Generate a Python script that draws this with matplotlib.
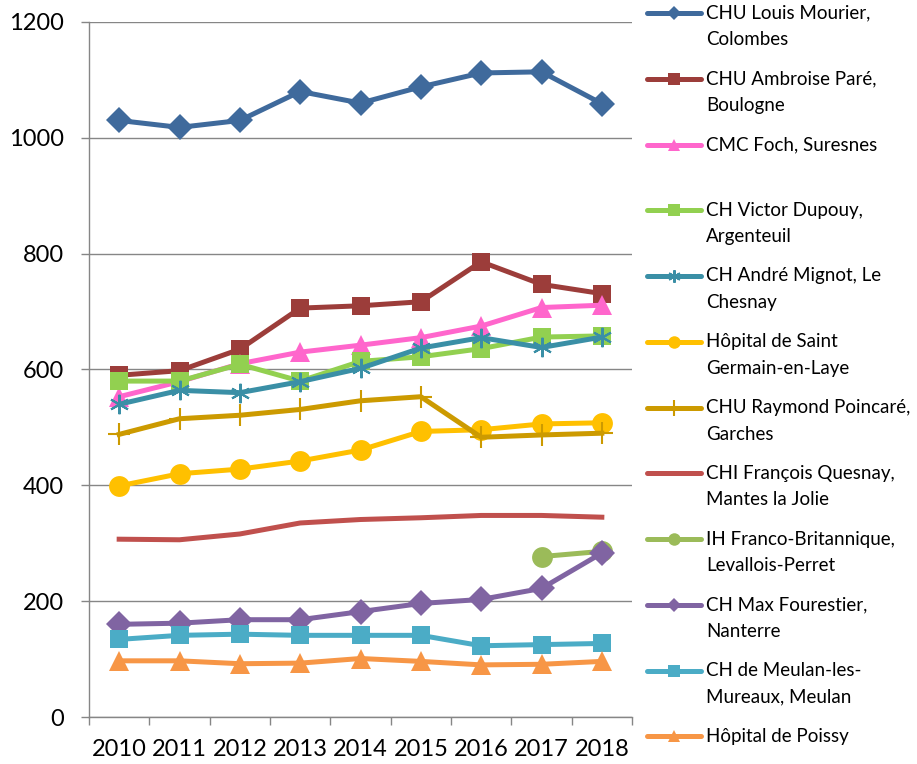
import matplotlib.pyplot as plt
from matplotlib.lines import Line2D

plt.rcParams['font.family'] = ['Lato', 'DejaVu Sans']

years = ['2010', '2011', '2012', '2013', '2014', '2015', '2016', '2017', '2018']

labels = [
    'CHU Louis Mourier,\nColombes',
    'CHU Ambroise Paré,\nBoulogne',
    'CMC Foch, Suresnes',
    'CH Victor Dupouy,\nArgenteuil',
    'CH André Mignot, Le\nChesnay',
    'Hôpital de Saint\nGermain-en-Laye',
    'CHU Raymond Poincaré,\nGarches',
    'CHI François Quesnay,\nMantes la Jolie',
    'IH Franco-Britannique,\nLevallois-Perret',
    'CH Max Fourestier,\nNanterre',
    'CH de Meulan-les-\nMureaux, Meulan',
    'Hôpital de Poissy',
]

louis_mourier = [1030, 1018, 1030, 1080, 1060, 1088, 1112, 1114, 1059]
ambroise_pare = [590, 598, 635, 706, 710, 717, 786, 747, 731]
foch = [553, 579, 610, 630, 642, 655, 675, 707, 711]
victor_dupouy = [580, 580, 609, 580, 614, 622, 636, 656, 658]
andre_mignot = [540, 564, 560, 579, 602, 637, 655, 638, 656]
saint_germain = [399, 420, 428, 442, 461, 493, 496, 506, 508]
raymond_poincare = [488, 515, 521, 531, 546, 553, 483, 487, 490]
quesnay = [307, 306, 316, 335, 341, 344, 348, 348, 345]
franco_britannique = [None, None, None, None, None, None, None, 277, 286]
max_fourestier = [160, 162, 168, 168, 182, 196, 203, 222, 283]
meulan = [134, 141, 143, 141, 141, 141, 123, 125, 127]
poissy = [97, 97, 92, 93, 101, 96, 90, 91, 96]

series = [louis_mourier, ambroise_pare, foch, victor_dupouy, andre_mignot,
          saint_germain, raymond_poincare, quesnay, franco_britannique,
          max_fourestier, meulan, poissy]

colors = ['#3F6A9C', '#9C3D3A', '#FF66CC', '#92D050', '#3A8FA6', '#FFC000',
          '#CC9A00', '#C0504D', '#9BBB59', '#8064A2', '#4BACC6', '#F79646']

asterisk = (6, 2, 0)
markers = ['D', 's', '^', 's', asterisk, 'o', '+', None, 'o', 'D', 's', '^']
msizes = [13, 13, 15, 13, 14, 15, 16, 0, 15, 13, 13, 15]
legend_msizes = [7, 9, 9, 9, 9, 9, 12, 0, 9, 7, 9, 9]

fig = plt.figure(figsize=(9.17, 7.64), dpi=100)
W, H = 917, 764
ax = fig.add_axes([89 / W, 1 - 717 / H, (632 - 89) / W, (717 - 22) / H])

x = list(range(len(years)))
for vals, c, m, ms in zip(series, colors, markers, msizes):
    xs = [xi for xi, v in zip(x, vals) if v is not None]
    ys = [v for v in vals if v is not None]
    mew = 1.5 if m in ('+', asterisk) else 0
    ax.plot(xs, ys, color=c, lw=3.6, marker=m, markersize=ms,
            markeredgewidth=mew, markeredgecolor=c, solid_joinstyle='round')

ax.set_xlim(-0.5, len(years) - 0.5)
ax.set_ylim(0, 1200)
ax.set_yticks(range(0, 1201, 200))
ax.set_xticks([i - 0.5 for i in range(len(years) + 1)], minor=False)
ax.set_xticklabels([])
ax.set_xticks(x, minor=True)
ax.set_xticklabels(years, minor=True)
ax.tick_params(axis='x', which='major', length=6, width=1, color='#868686', direction='out')
ax.tick_params(axis='x', which='minor', length=0, pad=16, labelsize=17)
ax.tick_params(axis='y', length=6, width=1, color='#868686', pad=12, labelsize=17)
ax.grid(axis='y', color='#868686', lw=1)
ax.set_axisbelow(True)
for side in ('top', 'right'):
    ax.spines[side].set_visible(False)
for side in ('left', 'bottom'):
    ax.spines[side].set_color('#868686')
    ax.spines[side].set_linewidth(1)

# fit legend font so the longest line is as wide as in the original
renderer = fig.canvas.get_renderer()
probe = fig.text(0, 0, 'CHU Raymond Poincaré,', fontsize=15)
legend_fs = 15 * 204 / probe.get_window_extent(renderer).width
probe.remove()

# legend drawn by hand so the handle sits on the first text line
y0, step, line_gap = 13, 65.75, 26.7
for i, (lab, c, m, ms) in enumerate(zip(labels, colors, markers, legend_msizes)):
    yp = y0 + i * step
    yf = 1 - yp / H
    fig.add_artist(Line2D([647 / W, 701 / W], [yf, yf], transform=fig.transFigure,
                          color=c, lw=3.6, solid_capstyle='round'))
    if m is not None:
        mew = 1.5 if m in ('+', asterisk) else 0
        fig.add_artist(Line2D([674 / W], [yf], transform=fig.transFigure,
                              color=c, marker=m, markersize=ms,
                              markeredgewidth=mew, markeredgecolor=c))
    for j, part in enumerate(lab.split('\n')):
        fig.text(706 / W, 1 - (yp + j * line_gap) / H, part, fontsize=legend_fs,
                 va='center', ha='left')

fig.savefig('out.png', dpi=100)
